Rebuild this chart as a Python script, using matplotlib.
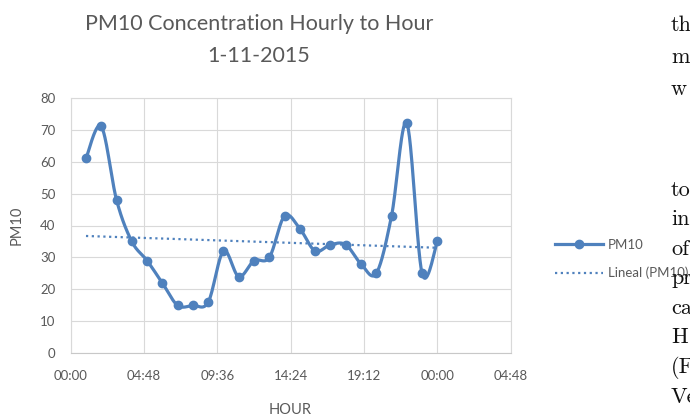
import numpy as np
import matplotlib
matplotlib.use("Agg")
import matplotlib.pyplot as plt
from matplotlib.lines import Line2D

# data (hour of day 1..24, PM10 value)
hours = [1, 2, 3, 4, 5, 6, 7, 8, 9, 10, 11, 12,
         13, 14, 15, 16, 17, 18, 19, 20, 21, 22, 23, 24]
pm10 = [61, 71, 48, 35, 29, 22, 15, 15, 16, 32, 24, 29,
        30, 43, 39, 32, 34, 34, 28, 25, 43, 72, 25, 35]
x_ticks = [0, 4.8, 9.6, 14.4, 19.2, 24.0, 28.8]
x_tick_labels = ["00:00", "04:48", "09:36", "14:24", "19:12", "00:00", "04:48"]
y_ticks = [0, 10, 20, 30, 40, 50, 60, 70, 80]

# clipped text of the surrounding document page
doc_lines = [("th", 31), ("m", 63), ("w", 95),
             ("to", 196), ("in", 225), ("of", 255), ("pr", 284),
             ("ca", 314), ("H", 343), ("(F", 373), ("Ve", 403)]

BLUE = "#4F81BD"
GREY = "#595959"
GRID = "#D9D9D9"


def excel_smooth(x, y, n=30):
    # catmull-rom style bezier, like excel's "smoothed line"
    x = np.asarray(x, float)
    y = np.asarray(y, float)
    xp = np.r_[x[0], x, x[-1]]
    yp = np.r_[y[0], y, y[-1]]
    t = np.linspace(0, 1, n)[:, None]
    xs, ys = [], []
    for i in range(len(x) - 1):
        p0 = np.array([xp[i + 1], yp[i + 1]])
        p3 = np.array([xp[i + 2], yp[i + 2]])
        c1 = p0 + (np.array([xp[i + 2], yp[i + 2]]) - np.array([xp[i], yp[i]])) / 6
        c2 = p3 - (np.array([xp[i + 3], yp[i + 3]]) - np.array([xp[i + 1], yp[i + 1]])) / 6
        pts = ((1 - t) ** 3 * p0 + 3 * (1 - t) ** 2 * t * c1
               + 3 * (1 - t) * t ** 2 * c2 + t ** 3 * p3)
        xs.append(pts[:, 0])
        ys.append(pts[:, 1])
    return np.concatenate(xs), np.concatenate(ys)


W, H = 690, 417
fig = plt.figure(figsize=(W / 100, H / 100), dpi=100)
ax = fig.add_axes([70.7 / W, 1 - 353.3 / H, (510.7 - 70.7) / W, (353.3 - 97.7) / H])

sx, sy = excel_smooth(hours, pm10)
ax.plot(sx, sy, color=BLUE, lw=2.3, solid_capstyle="round", zorder=3)
ax.plot(hours, pm10, "o", color=BLUE, ms=6, zorder=4)

# linear trend line
k, b = np.polyfit(hours, pm10, 1)
hx = np.array([hours[0], hours[-1]])
ax.plot(hx, k * hx + b, color=BLUE, lw=1.6, ls=(0, (1, 1.6)), zorder=2)

ax.set_xlim(0, 28.8)
ax.set_ylim(0, 80)
ax.set_xticks(x_ticks)
ax.set_xticklabels(x_tick_labels)
ax.set_yticks(y_ticks)
ax.grid(True, color=GRID, lw=0.8)
ax.set_axisbelow(True)
for s in ax.spines.values():
    s.set_color(GRID)
    s.set_linewidth(0.8)
ax.spines["bottom"].set_color("#C8C8C8")
ax.tick_params(length=0, colors=GREY, labelsize=9.5, pad=12)
ax.tick_params(axis="y", pad=11)
for lab in ax.get_xticklabels() + ax.get_yticklabels():
    lab.set_fontfamily("Lato")

fig.text(17 / W, 1 - 225 / H, "PM10", rotation=90, ha="center", va="center",
         color=GREY, fontsize=10.5, family="Lato")
fig.text(290 / W, 1 - 410 / H, "HOUR", ha="center", va="center",
         color=GREY, fontsize=10.5, family="Lato")
fig.text(259 / W, 1 - 40 / H, "PM10 Concentration Hourly to Hour\n1-11-2015",
         ha="center", va="center", color=GREY, fontsize=15.5, family="Lato",
         linespacing=1.7)

handles = [Line2D([], [], color=BLUE, lw=2.3, marker="o", ms=6),
           Line2D([], [], color=BLUE, lw=1.6, ls=(0, (1, 1.6)))]
fig.legend(handles, ["PM10", "Lineal (PM10)"], loc="center left",
           bbox_to_anchor=(555 / W, 1 - 259 / H), frameon=False,
           handlelength=3.6, handletextpad=0.4, labelspacing=1.2,
           borderpad=0, borderaxespad=0,
           prop={"family": "Lato", "size": 9.5}, labelcolor=GREY)

for txt, base in doc_lines:
    fig.text(671 / W, 1 - base / H, txt, ha="left", va="baseline",
             fontsize=16, family="cmr10", color="#111111", zorder=10)

fig.savefig("out.png", dpi=100)
